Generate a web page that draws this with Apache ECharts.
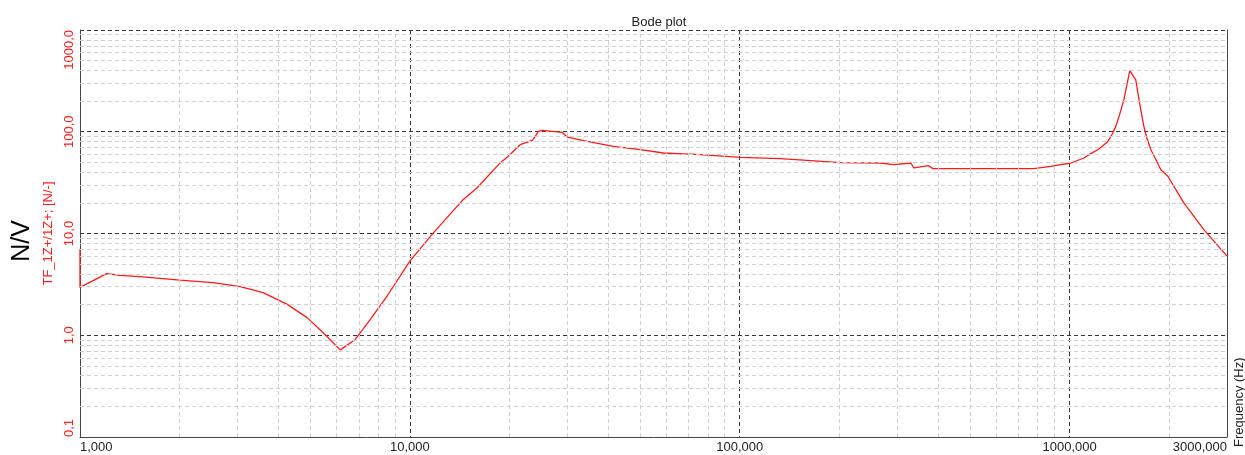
<!DOCTYPE html>
<html>
<head>
<meta charset="utf-8">
<script src="https://cdn.jsdelivr.net/npm/echarts@6/dist/echarts.min.js"></script>
<style>html,body{margin:0;padding:0;background:#fff}#c{width:1245px;height:455px}</style>
</head>
<body>
<div id="c"></div>
<script>
// Frequency (Hz) and magnitude (N/V)
const freq = [1, 1, 1.205, 1.32, 1.52, 2.01, 2.53, 3.06, 3.59, 4.25, 4.88, 5.46, 6.15, 6.83, 7.59, 8.53,
  10.0, 11.8, 14.5, 16.0, 18.8, 19.8, 21.6, 23.5, 24.0, 24.5, 25.2, 26.1, 29.0, 30.0, 34.5, 41.4, 50.0, 58.7, 76.1,
  100.5, 133, 202, 267, 293, 330, 337, 374, 385, 512, 778, 877, 940,
  1009, 1105, 1159, 1218, 1261, 1306, 1343, 1381, 1420, 1460, 1492, 1522, 1587, 1633, 1679, 1714, 1763, 1827, 1890, 1985, 2220, 2552, 3000];
const mag = [7.0, 2.95, 4.03, 3.88, 3.76, 3.48, 3.29, 3.0, 2.62, 2.01, 1.49, 1.06, 0.718, 0.91, 1.43, 2.43,
  5.35, 10.2, 21.5, 28.2, 49.7, 56.9, 74.6, 82.2, 89.9, 100.7, 103, 102, 98.4, 88.7, 80.4, 71.8, 66.6, 61.8, 59.6,
  56.0, 54.4, 49.7, 49.3, 47.5, 49.3, 44.1, 46.4, 43.4, 43.4, 43.4, 45.7, 47.5,
  49.3, 55.2, 60.9, 66.6, 72.9, 80.4, 93.5, 113, 150, 206, 289, 399, 323, 184, 113, 87.3, 66.6, 53.1, 42.4, 36.5, 20.0, 10.9, 5.99];
const xMinorTicks = [2,3,4,5,6,7,8,9,20,30,40,50,60,70,80,90,200,300,400,500,600,700,800,900,2000];
const yMinorTicks = [0.2,0.3,0.4,0.5,0.6,0.7,0.8,0.9,2,3,4,5,6,7,8,9,20,30,40,50,60,70,80,90,200,300,400,500,600,700,800,900];
const xRange = [1, 3000];
const yRange = [0.1, 1000];
const titleText = 'Bode plot';
const yName = 'TF_1Z+/1Z+; [N/-]';
const xName = 'Frequency (Hz)';
const unitText = 'N/V';

const chart = echarts.init(document.getElementById('c'), null, {renderer: 'canvas'});
const FONT = 'Liberation Sans, Arial, sans-serif';
const minorStyle = {color: '#cfcfcf', type: [4, 3], width: 1};
const majorStyle = {color: '#333', type: [4, 3], width: 1};

const minorLines = xMinorTicks.map(v => ({xAxis: v})).concat(yMinorTicks.map(v => ({yAxis: v})));

chart.setOption({
  animation: false,
  backgroundColor: '#fff',
  title: {
    text: titleText, left: 654, top: 11, textAlign: 'center',
    textStyle: {fontSize: 13, fontWeight: 'normal', color: '#222', fontFamily: FONT}
  },
  grid: {left: 80, right: 18, top: 30, bottom: 18, containLabel: false},
  xAxis: {
    type: 'log', logBase: 10, min: xRange[0], max: xRange[1],
    axisLine: {show: true, lineStyle: {color: '#444', width: 1}},
    axisTick: {show: false},
    splitLine: {show: true, lineStyle: majorStyle},
    axisLabel: {
      color: '#222', fontSize: 13, fontFamily: FONT, margin: 4,
      alignMinLabel: 'left', alignMaxLabel: 'right',
      formatter: v => Number(v).toFixed(3).replace('.', ',')
    }
  },
  yAxis: [{
    type: 'log', logBase: 10, min: yRange[0], max: yRange[1],
    name: yName, nameLocation: 'middle', nameRotate: 90, nameGap: 22,
    nameTextStyle: {color: '#ff2020', fontSize: 13, fontFamily: FONT},
    axisLine: {show: true, lineStyle: {color: '#444', width: 1}},
    axisTick: {show: false},
    splitLine: {show: true, lineStyle: majorStyle},
    axisLabel: {
      color: '#ff2020', fontSize: 13, fontFamily: FONT, rotate: 90, margin: 4,
      alignMinLabel: 'left', alignMaxLabel: 'right',
      formatter: v => Number(v).toFixed(1).replace('.', ',')
    }
  }, {
    type: 'value', position: 'right', min: 0, max: 1,
    axisLine: {show: true, lineStyle: {color: '#444', width: 1}},
    axisTick: {show: false}, axisLabel: {show: false}, splitLine: {show: false}
  }],
  graphic: [
    {type: 'text', x: 22, y: 241, rotation: Math.PI / 2,
      style: {text: unitText, fontSize: 25, fontFamily: FONT, fill: '#000', align: 'center', verticalAlign: 'middle'}},
    {type: 'text', x: 1239, y: 447, rotation: Math.PI / 2,
      style: {text: xName, fontSize: 13, fontFamily: FONT, fill: '#222', align: 'left', verticalAlign: 'middle'}}
  ],
  series: [{
    type: 'line', data: [], z: 1, silent: true,
    markLine: {silent: true, symbol: 'none', label: {show: false}, lineStyle: minorStyle, animation: false, data: minorLines}
  }, {
    type: 'line', z: 3,
    data: freq.map((f, i) => [f, mag[i]]),
    showSymbol: false, symbol: 'none',
    lineStyle: {color: '#ff1a1a', width: 1.3},
    itemStyle: {color: '#ff1a1a'}
  }]
});
</script>
</body>
</html>
